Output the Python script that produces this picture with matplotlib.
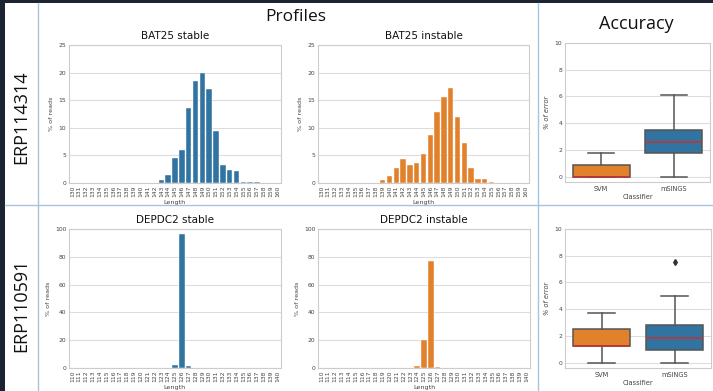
import matplotlib
matplotlib.use("Agg")
import matplotlib.pyplot as plt
from matplotlib.patches import Rectangle
from matplotlib.lines import Line2D
import numpy as np

# ---------------- data ----------------
bat_lengths = [str(v) for v in range(130, 161)]
bat_stable = [0, 0, 0, 0, 0, 0, 0, 0, 0, 0, 0, 0, 0,
              0.6, 1.5, 4.5, 6.0, 13.6, 18.4, 20.0, 17.1, 9.5, 3.2, 2.3, 2.1,
              0.15, 0.15, 0.15, 0, 0, 0]
bat_instable = [0, 0, 0, 0, 0, 0, 0, 0, 0,
                0.5, 1.3, 2.8, 4.4, 3.3, 3.6, 5.3, 8.7, 12.8, 15.5, 17.2, 11.95,
                7.3, 2.7, 0.7, 0.7, 0.25, 0, 0, 0, 0, 0]

dep_lengths = [str(v) for v in range(110, 141)]
dep_stable = [0] * 15 + [2.2, 96.4, 1.2] + [0] * 13
dep_instable = [0] * 14 + [1.5, 20.5, 77.0, 0.7] + [0] * 13

classifiers = ["SVM", "mSINGS"]
# [whislo, q1, med, q3, whishi]
acc_top_svm = [0.0, 0.0, 0.0, 0.85, 1.75]
acc_top_msings = [0.0, 1.75, 2.6, 3.5, 6.1]
acc_bot_svm = [0.0, 1.25, 1.25, 2.5, 3.75]
acc_bot_msings = [0.0, 0.95, 1.85, 2.85, 5.0]
acc_top_fliers = [[], []]
acc_bot_fliers = [[], [7.5]]

# ---------------- style ----------------
BLUE = "#3274a1"
ORANGE = "#e1812c"
GRID = "#dddddd"
EDGE = "#cccccc"
TXT = "#444444"
DARK = "#1c2331"
SEP = "#a7c2da"

W, H = 713, 391
fig = plt.figure(figsize=(W / 100, H / 100), dpi=100)
fig.patch.set_facecolor(DARK)

def rect(l, t, r, b):
    return [l / W, 1 - b / H, (r - l) / W, (b - t) / H]

# white slide area
fig.add_artist(Rectangle((5 / W, 0), 1, 1 - 3 / H, transform=fig.transFigure,
                         facecolor="white", edgecolor="none", zorder=0))
# separator lines
for x in (38, 538):
    fig.add_artist(Line2D([x / W, x / W], [0, 1 - 3 / H], transform=fig.transFigure,
                          color=SEP, lw=1.0, zorder=1))
fig.add_artist(Line2D([5 / W, 1], [1 - 205 / H, 1 - 205 / H], transform=fig.transFigure,
                      color=SEP, lw=1.0, zorder=1))

def style_ax(ax):
    ax.set_facecolor("white")
    for s in ax.spines.values():
        s.set_color(EDGE)
        s.set_linewidth(0.8)
    ax.tick_params(length=0, labelsize=4.3, colors=TXT, pad=2)
    ax.yaxis.grid(True, color=GRID, lw=0.8)
    ax.xaxis.grid(False)
    ax.set_axisbelow(True)

def bar_panel(box, cats, vals, color, title, ymax, step):
    ax = fig.add_axes(rect(*box))
    style_ax(ax)
    x = np.arange(len(cats))
    ax.bar(x, vals, width=0.8, color=color, edgecolor="white", linewidth=0.3)
    ax.set_xlim(-0.5, len(cats) - 0.5)
    ax.set_ylim(0, ymax)
    ax.set_yticks(np.arange(0, ymax + 0.1, step))
    ax.set_xticks(x)
    ax.set_xticklabels(cats, rotation=90)
    ax.tick_params(axis="x", pad=2)
    ax.set_xlabel("Length", fontsize=4.6, color=TXT, labelpad=2)
    ax.set_ylabel("% of reads", fontsize=4.6, color=TXT, labelpad=3)
    ax.set_title(title, fontsize=7.5, color="#111111", pad=4)
    return ax

bar_panel((69, 45, 281, 183), bat_lengths, bat_stable, BLUE, "BAT25 stable", 25, 5)
bar_panel((318, 45, 529, 183), bat_lengths, bat_instable, ORANGE, "BAT25 instable", 25, 5)
bar_panel((69, 229, 281, 368), dep_lengths, dep_stable, BLUE, "DEPDC2 stable", 100, 20)
bar_panel((318, 229, 530, 368), dep_lengths, dep_instable, ORANGE, "DEPDC2 instable", 100, 20)

def box_panel(box, svm, msings, fliers):
    ax = fig.add_axes(rect(*box))
    style_ax(ax)
    stats = []
    for name, s, fl in zip(classifiers, [svm, msings], fliers):
        stats.append(dict(label=name, whislo=s[0], q1=s[1], med=s[2], q3=s[3],
                          whishi=s[4], fliers=fl))
    lc = "#555555"
    b = ax.bxp(stats, positions=[0, 1], widths=0.78, patch_artist=True,
               showfliers=True,
               boxprops=dict(edgecolor=lc, linewidth=1.1),
               whiskerprops=dict(color=lc, linewidth=1.1),
               capprops=dict(color=lc, linewidth=1.1),
               medianprops=dict(color="#c8312f", linewidth=1.1),
               flierprops=dict(marker="d", markerfacecolor="#333333",
                               markeredgecolor="#333333", markersize=3))
    for patch, c in zip(b["boxes"], [ORANGE, BLUE]):
        patch.set_facecolor(c)
    for cap in b["caps"]:
        xd = cap.get_xdata()
        m = (xd[0] + xd[1]) / 2
        cap.set_xdata([m - 0.18, m + 0.18])
    ax.set_xlim(-0.5, 1.5)
    ax.set_ylim(-0.4, 10)
    ax.set_yticks([0, 2, 4, 6, 8, 10])
    ax.set_xlabel("Classifier", fontsize=4.8, color=TXT, labelpad=1.5)
    ax.set_ylabel("% of error", fontsize=4.8, color=TXT, labelpad=3, style="italic")
    ax.tick_params(axis="x", labelsize=4.8, pad=3)
    return ax

box_panel((565, 43, 710, 182), acc_top_svm, acc_top_msings, acc_top_fliers)
box_panel((565, 229, 711, 368), acc_bot_svm, acc_bot_msings, acc_bot_fliers)

# headings
fig.text(296 / W, 1 - 17 / H, "Profiles", fontsize=12.5, family="Open Sans",
         ha="center", va="center", color="#111111")
fig.text(636 / W, 1 - 24 / H, "Accuracy", fontsize=13, family="Open Sans",
         ha="center", va="center", color="#111111")
fig.text(21 / W, 1 - 117 / H, "ERP114314", fontsize=13, family="Open Sans",
         rotation=90, ha="center", va="center", color="#111111")
fig.text(21 / W, 1 - 305 / H, "ERP110591", fontsize=13, family="Open Sans",
         rotation=90, ha="center", va="center", color="#111111")

fig.savefig("out.png", dpi=100, facecolor=fig.get_facecolor())
